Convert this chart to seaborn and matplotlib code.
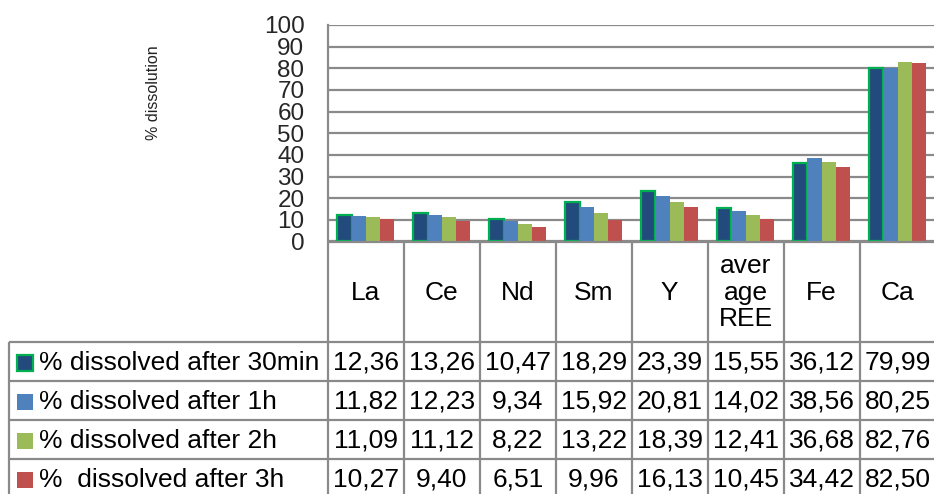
import matplotlib
matplotlib.use("Agg")
import matplotlib.pyplot as plt
import matplotlib.transforms as mtransforms
from matplotlib.patches import Rectangle
import seaborn as sns
import pandas as pd

# ---- data ----
categories = ["La", "Ce", "Nd", "Sm", "Y", "average REE", "Fe", "Ca"]
header_labels = ["La", "Ce", "Nd", "Sm", "Y", "aver\nage\nREE", "Fe", "Ca"]
series = ["% dissolved after 30min", "% dissolved after 1h",
          "% dissolved after 2h", "%  dissolved after 3h"]
v_30min = [12.36, 13.26, 10.47, 18.29, 23.39, 15.55, 36.12, 79.99]
v_1h = [11.82, 12.23, 9.34, 15.92, 20.81, 14.02, 38.56, 80.25]
v_2h = [11.09, 11.12, 8.22, 13.22, 18.39, 12.41, 36.68, 82.76]
v_3h = [10.27, 9.40, 6.51, 9.96, 16.13, 10.45, 34.42, 82.50]
y_ticks = [0, 10, 20, 30, 40, 50, 60, 70, 80, 90, 100]
y_label = "% dissolution"

values = [v_30min, v_1h, v_2h, v_3h]
colors = ["#234A7C", "#4F81BD", "#9BBB59", "#C0504D"]
edge_first = "#00B050"
grid_col = "#8A8A8A"

rows = []
for s, vals in zip(series, values):
    for c, v in zip(categories, vals):
        rows.append({"element": c, "series": s, "value": v})
df = pd.DataFrame(rows)

sns.set_theme(style="white")
plt.rcParams["font.family"] = ["Liberation Sans", "DejaVu Sans"]

W, H = 934, 494
fig = plt.figure(figsize=(W / 100, H / 100), dpi=100)
fig.patch.set_facecolor("white")

ax_left, ax_right = 328, 935.5
ax_bottom, ax_top = 241.5, 25
ax = fig.add_axes([ax_left / W, 1 - ax_bottom / H,
                   (ax_right - ax_left) / W, (ax_bottom - ax_top) / H])
ax.patch.set_alpha(0)

sns.barplot(data=df, x="element", y="value", hue="series",
            order=categories, hue_order=series, palette=colors,
            width=0.75, gap=0, saturation=1, linewidth=0,
            legend=False, ax=ax)
for p in ax.containers[0]:
    p.set_edgecolor(edge_first)
    p.set_linewidth(1.6)

ax.set_xlim(-0.5, len(categories) - 0.5)
ax.set_ylim(0, 100)
ax.set_yticks(y_ticks)
ax.set_yticklabels([str(t) for t in y_ticks], fontsize=17.5)
ax.tick_params(axis="y", length=0, pad=17)
ax.tick_params(axis="x", bottom=False, labelbottom=False)
ax.set_xlabel("")
ax.set_ylabel("")
ax.yaxis.grid(True, color=grid_col, linewidth=1.6)
ax.set_axisbelow(True)
for s in ["top", "right", "bottom"]:
    ax.spines[s].set_visible(False)
ax.spines["left"].set_color(grid_col)
ax.spines["left"].set_linewidth(1.6)

fig.text(153 / W, 1 - 93 / H, y_label, rotation=90, ha="center",
         va="center", fontsize=11.5, color="#222222")

# ---- data table ----
tab = fig.add_axes([0, 0, 1, 1])
tab.set_xlim(0, W)
tab.set_ylim(H, 0)
tab.axis("off")
tab.patch.set_visible(False)
blend = mtransforms.blended_transform_factory(ax.transData, tab.transData)

header_top, header_bot = 241.5, 342
row_edges = [342, 381, 420, 459, 498]
legend_left = 9
n = len(categories)
lkw = dict(color=grid_col, linewidth=1.6, solid_capstyle="butt", clip_on=False)

# vertical lines for category columns
for i in range(n + 1):
    tab.plot([i - 0.5, i - 0.5], [header_top, 500], transform=blend, **lkw)
# header top line
tab.plot([-0.5, n - 0.5], [header_top, header_top], transform=blend, **lkw)
# legend column left border
tab.plot([legend_left, legend_left], [row_edges[0], 500], **lkw)
# horizontal row lines
for y in row_edges[:-1]:
    tab.plot([legend_left, W + 5], [y, y], **lkw)

# header labels
for i, lab in enumerate(header_labels):
    tab.text(i, (header_top + header_bot) / 2 + 1, lab, transform=blend,
             ha="center", va="center", fontsize=19, linespacing=1.12,
             color="black")

# rows
for r, (s, vals, col) in enumerate(zip(series, values, colors)):
    yc = (row_edges[r] + row_edges[r + 1]) / 2 + 1
    ec = edge_first if r == 0 else col
    tab.add_patch(Rectangle((17, yc - 8), 16, 16, facecolor=col,
                            edgecolor=ec, linewidth=1.6 if r == 0 else 0))
    tab.text(39, yc, s, ha="left", va="center", fontsize=19, color="black")
    for i, v in enumerate(vals):
        tab.text(i, yc, f"{v:.2f}".replace(".", ","), transform=blend,
                 ha="center", va="center", fontsize=19, color="black")

fig.savefig("out.png", dpi=100, facecolor="white")
